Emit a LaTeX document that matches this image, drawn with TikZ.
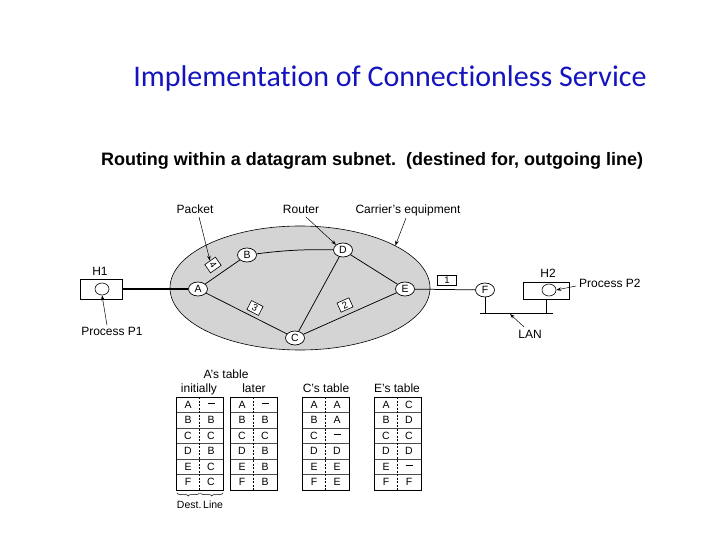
\documentclass[tikz,border=0pt]{standalone}
\usepackage{fontspec}
\setmainfont{Liberation Sans}
\newfontfamily\titlefont[RawFeature=-liga]{Carlito}
\usetikzlibrary{shapes.geometric,arrows.meta,decorations.pathreplacing}
\definecolor{titleblue}{RGB}{20,20,190}
\definecolor{netgray}{RGB}{212,212,212}
\newcommand\apos{\char39\relax}
\newcommand\nodash{\rule[2.6pt]{7pt}{0.7pt}}
\newcommand\rtable[3]{%
  \foreach [count=\i] \d/\l in {#3} {
    \node[cell] (#2-\i-d) at (#1+12, 397+15.5*\i-7.75) {\d};
    \node[cell] (#2-\i-l) at (#1+35, 397+15.5*\i-7.75) {\l};
  }
  \foreach \i in {1,...,5} {\draw[rowline] (#1, 397+15.5*\i) -- (#1+47, 397+15.5*\i);}
  \draw[dashed, line width=0.5pt, dash pattern=on 2pt off 1.5pt] (#1+23.5,397) -- (#1+23.5,490);
  \draw[line width=0.7pt] (#1,397) rectangle (#1+47,490);
}
\begin{document}
\begin{tikzpicture}[x=1pt,y=-1pt,
  router/.style={ellipse,draw,fill=white,line width=0.7pt,minimum width=19pt,minimum height=14pt,inner sep=0pt,font=\fontsize{10.5}{10.5}\selectfont},
  pkt/.style={draw,fill=white,line width=0.6pt,minimum width=13pt,minimum height=10pt,inner sep=0pt,font=\fontsize{9.5}{9.5}\selectfont},
  lbl/.style={font=\fontsize{12}{12}\selectfont,inner sep=0pt,text height=8.5pt,text depth=2pt},
  cell/.style={font=\fontsize{10.5}{10.5}\selectfont,inner sep=0pt},
  rowline/.style={line width=0.5pt,black!70},
  link/.style={line width=0.75pt},
  ptr/.style={-{Stealth[length=5pt,width=3.5pt]},line width=0.5pt},
]
\useasboundingbox (0,0) rectangle (720,540);

% titles
\node[font=\titlefont\fontsize{30}{30}\selectfont, text=titleblue, anchor=base, inner sep=0pt] (title) at (390,87) {Implementation of Connectionless Service};
\node[font=\bfseries\fontsize{18}{18}\selectfont, anchor=base, inner sep=0pt] (sub) at (372,166) {Routing within a datagram subnet.\ \ (destined for, outgoing line)};

% carrier network
\node[ellipse, draw, fill=netgray, line width=0.6pt, minimum width=260pt, minimum height=124pt, inner sep=0pt] (net) at (300,288) {};

\node[router] (A) at (198,289) {A};
\node[router] (B) at (247,255) {B};
\node[router] (C) at (295,338) {C};
\node[router] (D) at (343,250) {D};
\node[router] (E) at (405,289) {E};
\node[router] (F) at (485,290) {F};

\draw[link] (A) -- (B);
\draw[link] (A) -- (C);
\draw[link] (B) to[bend left=4] (D);
\draw[link] (C) -- (D);
\draw[link] (D) -- (E);
\draw[link] (C) -- (E);
\draw[link] (E) -- (F);

% packets
\node[pkt, rotate=35] (p4) at (213,265) {\rotatebox{-90}{4}};
\node[pkt, rotate=-27] (p3) at (255,308) {3};
\node[pkt, rotate=24] (p2) at (345,305) {2};
\node[pkt, minimum width=19pt] (p1) at (447,280) {1};

% hosts
\node[draw, line width=0.7pt, minimum width=42pt, minimum height=20pt, inner sep=0pt] (H1) at (101,289) {};
\node[ellipse, draw, line width=0.6pt, minimum width=14pt, minimum height=12pt, inner sep=0pt] (h1c) at (102,289) {};
\node[lbl] (H1l) at (100,272) {H1};
\draw[line width=1.3pt] (H1) -- (A);

\node[draw, line width=0.7pt, minimum width=46pt, minimum height=17pt, inner sep=0pt] (H2) at (546,290.5) {};
\node[ellipse, draw, line width=0.6pt, minimum width=14pt, minimum height=12pt, inner sep=0pt] (h2c) at (549,290) {};
\node[lbl] (H2l) at (548,274) {H2};

% LAN
\coordinate (lanL) at (480,313);
\coordinate (lanR) at (553,313);
\draw[line width=1pt] (lanL) -- (lanR);
\draw[link] (F) -- (F |- lanL);
\draw[link] (H2) -- (H2 |- lanL);

% labels with arrows
\node[lbl] (pl) at (195,210) {Packet};
\draw[ptr] (199,217) -- (p4.north);
\node[lbl] (rl) at (301,210) {Router};
\draw[ptr] (306,217) -- (D.north west);
\node[lbl] (cl) at (408,210) {Carrier\apos s equipment};
\draw[ptr] (406,218) -- (net.24);
\node[lbl] (P1) at (112,332) {Process P1};
\draw[ptr] (107,325) -- (h1c.south);
\node[lbl, anchor=west] (P2) at (579,284) {Process P2};
\draw[ptr] (576,286) -- (h2c.east);
\node[lbl] (LAN) at (530,335) {LAN};
\draw[ptr] (524,327) -- (510,314);

% tables
\node[lbl] (At) at (226,375) {A\apos s table};
\node[lbl] (ini) at (199,389) {initially};
\node[lbl] (lat) at (254,389) {later};
\node[lbl] (Ct) at (326,389) {C\apos s table};
\node[lbl] (Et) at (397,389) {E\apos s table};

\rtable{176}{T1}{A/\nodash, B/B, C/C, D/B, E/C, F/C}
\rtable{230}{T2}{A/\nodash, B/B, C/C, D/B, E/B, F/B}
\rtable{302}{T3}{A/A, B/A, C/\nodash, D/D, E/E, F/E}
\rtable{374}{T4}{A/C, B/D, C/C, D/D, E/\nodash, F/F}

\draw[decorate, decoration={brace, mirror, amplitude=3pt}, line width=0.5pt] (177,493) -- (199.5,493);
\draw[decorate, decoration={brace, mirror, amplitude=3pt}, line width=0.5pt] (200.5,493) -- (223,493);
\node[lbl, font=\fontsize{10.5}{11}\selectfont] (dest) at (200,505) {Dest.\,Line};
\end{tikzpicture}
\end{document}
